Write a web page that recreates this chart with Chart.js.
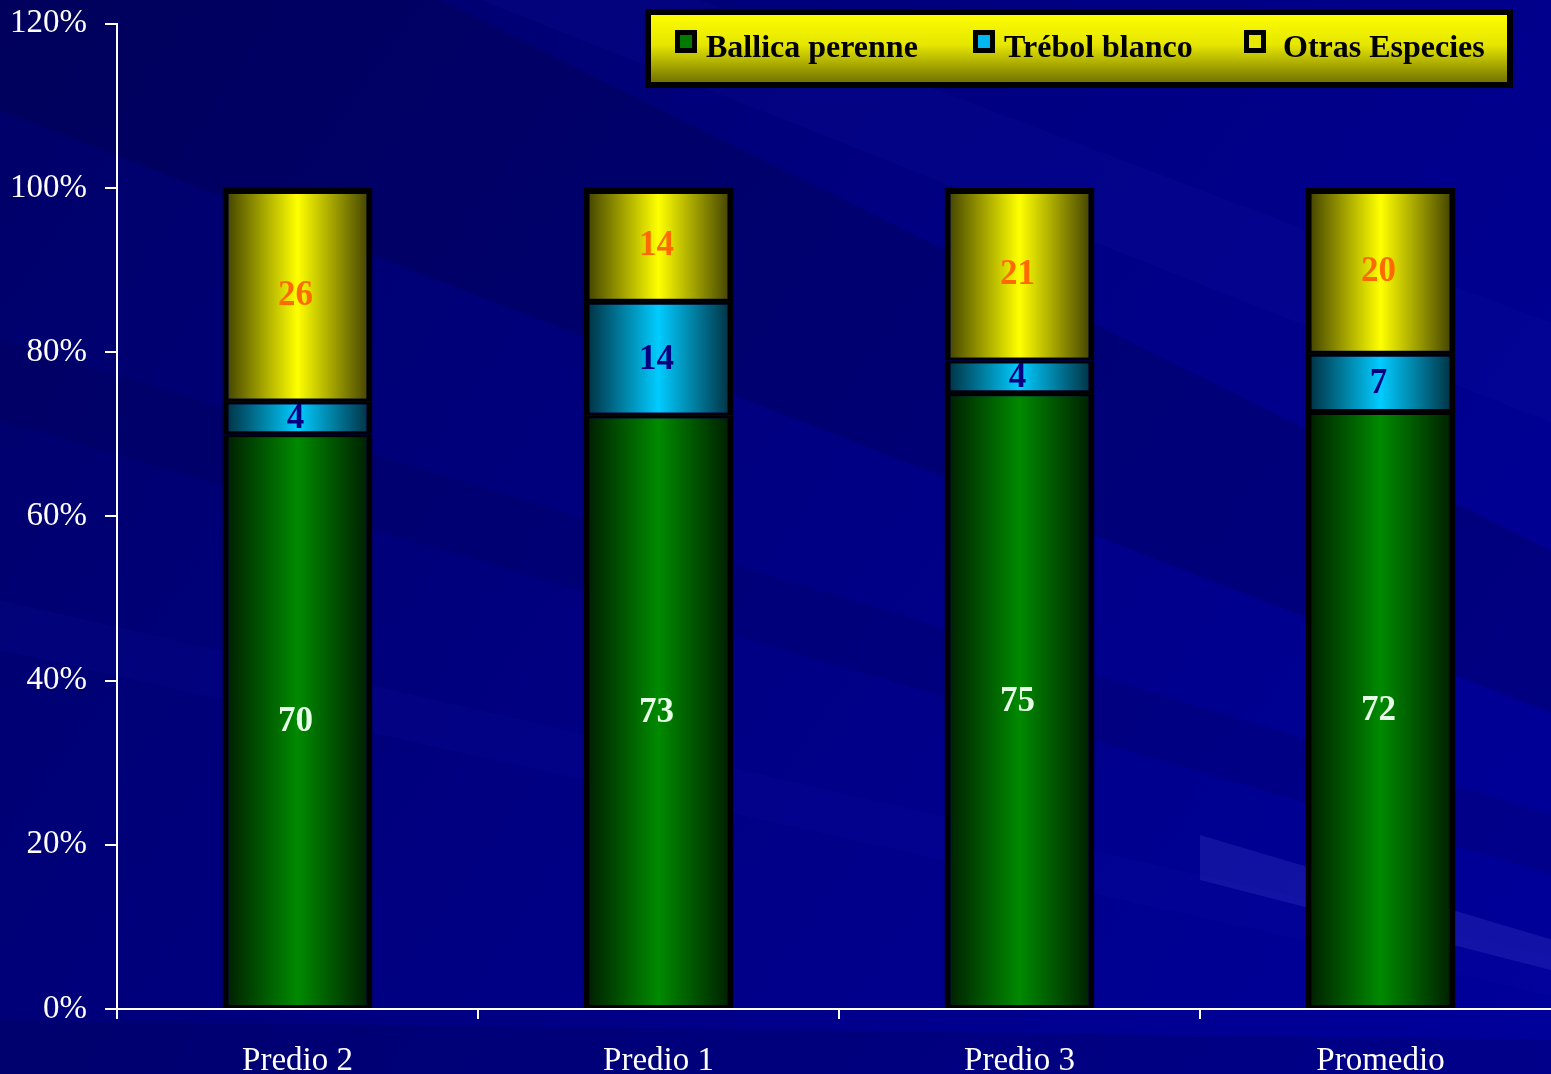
<!DOCTYPE html>
<html>
<head>
<meta charset="utf-8">
<script src="https://cdn.jsdelivr.net/npm/chart.js@4.4.1/dist/chart.umd.min.js"></script>
<style>
  html, body { margin: 0; padding: 0; overflow: hidden; background: #00007a; }
  #wrap { width: 1551px; height: 1074px; overflow: hidden; }
  #chart { display: block; margin-top: -14px; }
</style>
</head>
<body>
<div id="wrap"><canvas id="chart" width="1570" height="1088"></canvas></div>
<script>
const categories = ['Predio 2', 'Predio 1', 'Predio 3', 'Promedio'];
const ballica = [70, 73, 75, 72];
const trebol = [4, 14, 4, 7];
const otras = [26, 14, 21, 20];

const seriesNames = ['Ballica perenne', 'Trébol blanco', 'Otras Especies'];
const yTicks = [0, 20, 40, 60, 80, 100, 120];

const SERIF = "'Liberation Serif', 'Times New Roman', serif";

// 100% stacked: each column normalised to its total
const totals = categories.map((_, i) => ballica[i] + trebol[i] + otras[i]);
const pct = arr => arr.map((v, i) => v / totals[i] * 100);

// centre / edge colours of the cylinder-like gradient
const shades = [
    { mid: '#008a00', edge: '#001a00', label: '#e6ffe6', key: '#007a00' },
    { mid: '#00ccff', edge: '#002a3a', label: '#000080', key: '#00b8f0' },
    { mid: '#ffff00', edge: '#3a3a00', label: '#ff6a00', key: '#e8e800' }
];

const BAR_FRAC = 0.415;
const SHIFT = 14; // canvas is pulled up by this much

function barFill(ctx) {
    const chart = ctx.chart;
    const s = shades[ctx.datasetIndex];
    const xs = chart.scales.x;
    if (!chart.chartArea || !xs) return s.mid;
    const cx = xs.getPixelForValue(ctx.dataIndex);
    const w = xs.width / categories.length * BAR_FRAC;
    const g = chart.ctx.createLinearGradient(cx - w / 2, 0, cx + w / 2, 0);
    g.addColorStop(0, s.edge);
    g.addColorStop(0.5, s.mid);
    g.addColorStop(1, s.edge);
    return g;
}

const backdrop = {
    id: 'backdrop',
    beforeDraw(chart) {
        const c = chart.ctx;
        const W = chart.width, H = chart.height;
        c.save();
        c.translate(0, SHIFT);
        const g = c.createLinearGradient(0, 0, W, H);
        g.addColorStop(0, '#000068');
        g.addColorStop(0.5, '#000084');
        g.addColorStop(1, '#00009c');
        c.fillStyle = g;
        c.fillRect(0, -SHIFT, W, H);
        const band = (pts, col) => {
            c.beginPath();
            c.moveTo(pts[0][0], pts[0][1]);
            for (let k = 1; k < pts.length; k++) c.lineTo(pts[k][0], pts[k][1]);
            c.closePath();
            c.fillStyle = col;
            c.fill();
        };
        band([[0, 0], [440, 0], [1570, 560], [1570, 720], [0, 110]], 'rgba(0,0,40,0.18)');
        band([[480, 0], [700, 0], [1570, 330], [1570, 430]], 'rgba(20,20,170,0.15)');
        band([[0, 340], [0, 420], [1570, 880], [1570, 820]], 'rgba(0,0,50,0.12)');
        band([[0, 600], [0, 650], [1570, 1000], [1570, 960]], 'rgba(20,20,170,0.12)');
        band([[1200, 835], [1200, 880], [1570, 975], [1570, 945]], 'rgba(80,80,220,0.22)');
        band([[0, 1020], [0, 1074], [1570, 1074], [1570, 1040]], 'rgba(0,0,60,0.18)');
        c.restore();
    }
};

const segLabels = {
    id: 'segLabels',
    afterDatasetsDraw(chart) {
        const c = chart.ctx;
        const raw = [ballica, trebol, otras];
        c.save();
        c.font = 'bold 35px ' + SERIF;
        c.textAlign = 'center';
        c.textBaseline = 'middle';
        chart.data.datasets.forEach((ds, di) => {
            chart.getDatasetMeta(di).data.forEach((el, i) => {
                const p = el.getProps(['x', 'y', 'base'], true);
                c.fillStyle = shades[di].label;
                c.fillText(String(raw[di][i]), p.x - 2, (p.y + p.base) / 2 + 1);
            });
        });
        c.restore();
    }
};

const boxLegend = {
    id: 'boxLegend',
    afterDraw(chart) {
        const c = chart.ctx;
        const x0 = 648, y0 = 12, w = 862, h = 73;
        c.save();
        c.translate(0, SHIFT);
        const g = c.createLinearGradient(0, y0, 0, y0 + h);
        g.addColorStop(0, '#ffff00');
        g.addColorStop(0.45, '#e6e600');
        g.addColorStop(1, '#6a6a00');
        c.fillStyle = g;
        c.fillRect(x0, y0, w, h);
        c.lineWidth = 6;
        c.strokeStyle = '#000';
        c.strokeRect(x0, y0, w, h);
        const keyX = [675, 973, 1244];
        const textX = [706, 1004, 1283];
        c.font = 'bold 32px ' + SERIF;
        c.textBaseline = 'alphabetic';
        c.textAlign = 'left';
        seriesNames.forEach((name, k) => {
            c.fillStyle = '#000';
            c.fillRect(keyX[k], 30, 22, 23);
            c.fillStyle = shades[k].key;
            c.fillRect(keyX[k] + 5, 35, 12, 13);
            c.fillStyle = '#000';
            c.fillText(name, textX[k], 57);
        });
        c.restore();
    }
};

const datasets = [ballica, trebol, otras].map((arr, di) => ({
    label: seriesNames[di],
    data: pct(arr),
    backgroundColor: barFill,
    borderColor: '#000',
    borderWidth: ctx => ({ left: 6, right: 6, top: ctx.datasetIndex === 2 ? 6 : 3, bottom: 3 }),
    borderSkipped: false,
    categoryPercentage: 1,
    barPercentage: BAR_FRAC
}));

new Chart(document.getElementById('chart').getContext('2d'), {
    type: 'bar',
    data: { labels: categories, datasets: datasets },
    options: {
        responsive: false,
        animation: false,
        layout: { padding: { top: 0, right: 9, left: 0, bottom: 0 } },
        plugins: { legend: { display: false }, tooltip: { enabled: false } },
        scales: {
            x: {
                stacked: true,
                afterFit: axis => { axis.height = 65; },
                grid: { drawOnChartArea: false, color: '#fff', lineWidth: 2, tickLength: 10, offset: true },
                border: { color: '#fff', width: 2 },
                ticks: { color: '#fff', font: { family: SERIF, size: 33 }, padding: 23 }
            },
            y: {
                stacked: true,
                min: 0,
                max: 120,
                afterBuildTicks: axis => { axis.ticks = yTicks.map(v => ({ value: v })); },
                afterFit: axis => { axis.width = 117; },
                grid: { drawOnChartArea: false, color: '#fff', lineWidth: 2, tickLength: 12 },
                border: { color: '#fff', width: 2 },
                ticks: { color: '#fff', font: { family: SERIF, size: 33 }, padding: 18,
                         callback: v => v + '%' }
            }
        }
    },
    plugins: [backdrop, segLabels, boxLegend]
});
</script>
</body>
</html>
